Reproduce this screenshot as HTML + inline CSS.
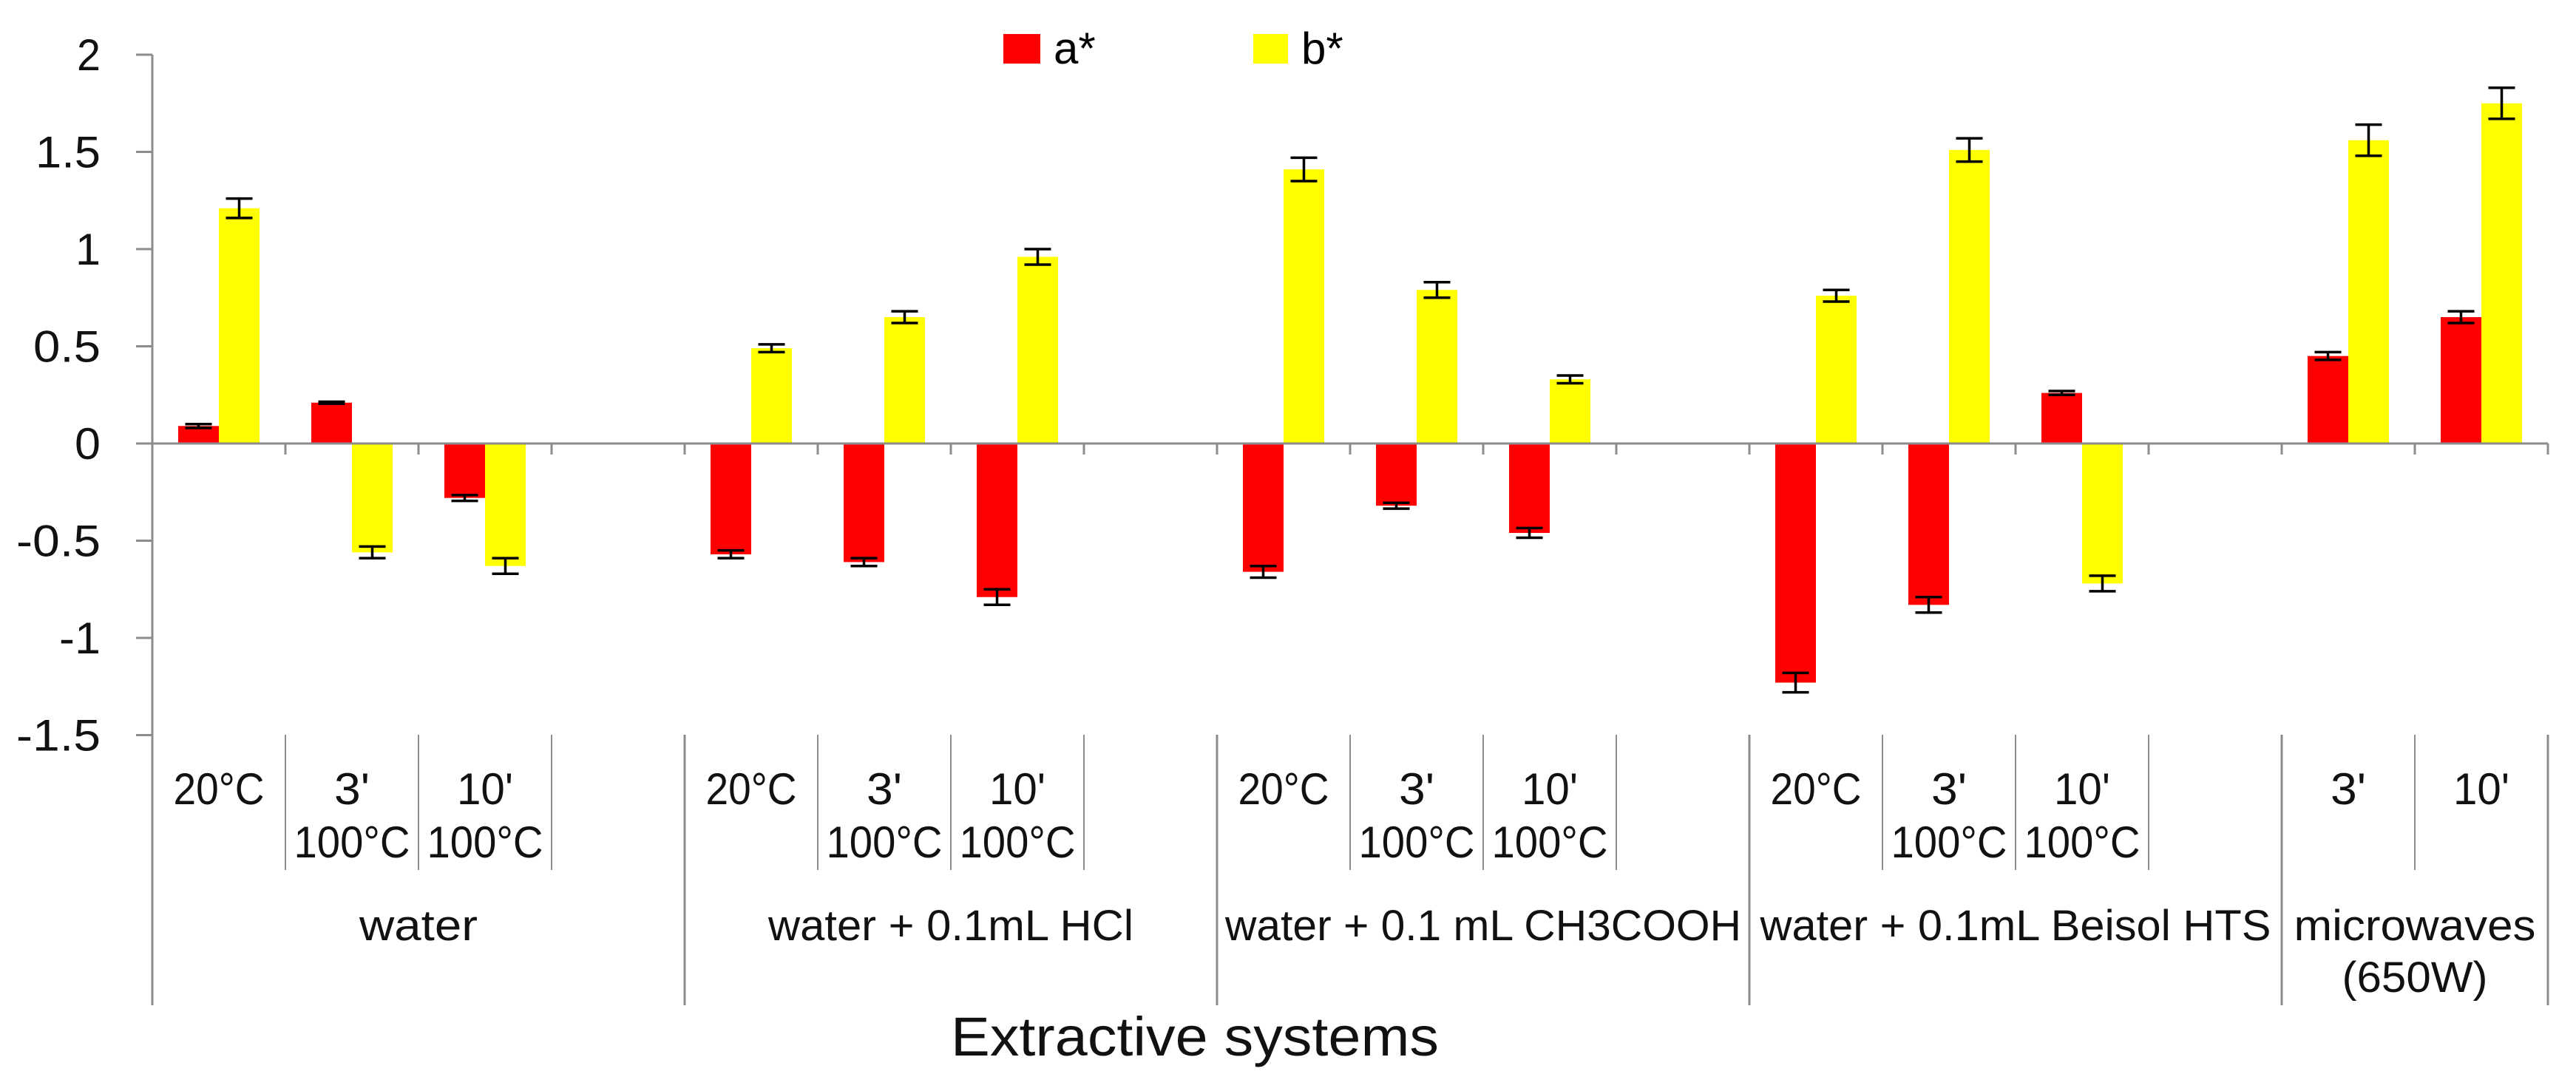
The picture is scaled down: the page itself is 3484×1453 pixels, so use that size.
<!DOCTYPE html>
<html><head><meta charset="utf-8"><style>html,body{margin:0;padding:0;background:#fff}svg{display:block}</style></head>
<body>
<svg id="chart" width="3484" height="1453" viewBox="0 0 3484 1453" xmlns="http://www.w3.org/2000/svg" font-family="Liberation Sans, sans-serif">
<g id="legend">
  <rect x="1357" y="46" width="50" height="40" fill="#ff0000"/>
  <text x="1425" y="86" font-size="60">a*</text>
  <rect x="1695" y="46" width="47" height="40" fill="#ffff00"/>
  <text x="1760" y="86" font-size="60">b*</text>
</g>
<g id="plot"></g>
</svg>
<script>
const groups = ["water","water + 0.1mL HCl","water + 0.1 mL CH3COOH","water + 0.1mL Beisol HTS","microwaves|(650W)"];
const groupSizes = [4,4,4,4,2];
const subLabels = [["20°C"],["3'","100°C"],["10'","100°C"],null, ["20°C"],["3'","100°C"],["10'","100°C"],null, ["20°C"],["3'","100°C"],["10'","100°C"],null, ["20°C"],["3'","100°C"],["10'","100°C"],null, ["3'"],["10'"]];
const aValues = [0.09,0.21,-0.28,null, -0.57,-0.61,-0.79,null, -0.66,-0.32,-0.46,null, -1.23,-0.83,0.26,null, 0.45,0.65];
const aErrors = [0.01,0.005,0.015,null, 0.02,0.02,0.04,null, 0.03,0.015,0.025,null, 0.05,0.04,0.01,null, 0.02,0.03];
const bValues = [1.21,-0.56,-0.63,null, 0.49,0.65,0.96,null, 1.41,0.79,0.33,null, 0.76,1.51,-0.72,null, 1.56,1.75];
const bErrors = [0.05,0.03,0.04,null, 0.02,0.03,0.04,null, 0.06,0.04,0.02,null, 0.03,0.06,0.04,null, 0.08,0.08];
const yTicks = [2,1.5,1,0.5,0,-0.5,-1,-1.5];
const yTickLabels = ["2","1.5","1","0.5","0","-0.5","-1","-1.5"];

const NS="http://www.w3.org/2000/svg";
const g=document.getElementById('plot');
const X0=206, SLOT=180, Y0=600, PX=263;
const y=v=>Y0-v*PX;
const xs=i=>X0+i*SLOT;
const AX="#8c8c8c";
function mk(t,a){const e=document.createElementNS(NS,t);for(const k in a)e.setAttribute(k,a[k]);g.appendChild(e);return e;}
const widths={"2":32,"1.5":88,"1":34,"0.5":91,"0":35,"-0.5":114,"-1":56,"-1.5":114,"20°C":123,"100°C":157,"3'":48,"10'":76,
 "water":160,"water + 0.1mL HCl":494,"water + 0.1 mL CH3COOH":698,"water + 0.1mL Beisol HTS":691,"microwaves":327,"(650W)":197};
function txt(s,x,yy,fs,anchor,name){const e=mk('text',{x:x,y:yy,'font-size':fs,'text-anchor':anchor,fill:'#111'});
 if(widths[s]){e.setAttribute('textLength',widths[s]);e.setAttribute('lengthAdjust','spacingAndGlyphs');}
 e.textContent=s;
 
 
 return e;}
const nSlots=subLabels.length, XE=xs(nSlots);
let ax=mk('line',{x1:X0,y1:y(2),x2:X0,y2:1360,stroke:AX,'stroke-width':3});


yTicks.forEach((v,i)=>{
 let t=mk('line',{x1:184,y1:y(v),x2:X0,y2:y(v),stroke:AX,'stroke-width':3});
 
 
 txt(yTickLabels[i],136,y(v)+21,60,'end','y-tick-label');
});
const BW=55, OFF=35;
function bar(i,v,e,col,name){
 if(v===null)return;
 const x=xs(i)+OFF+(col==='#ffff00'?BW:0);
 let r=mk('rect',{x:x,y:Math.min(y(v),Y0),width:BW,height:Math.abs(y(v)-Y0),fill:col});
 
 
 const cx=x+BW/2, hi=y(v+e), lo=y(v-e);
 let p=mk('path',{d:`M${cx},${hi}V${lo}M${cx-18},${hi}H${cx+18}M${cx-18},${lo}H${cx+18}`,stroke:'#000','stroke-width':3.5,fill:'none'});
 
 
}
for(let i=0;i<nSlots;i++){bar(i,aValues[i],aErrors[i],'#ff0000','bar-a');bar(i,bValues[i],bErrors[i],'#ffff00','bar-b');}
let xa=mk('line',{x1:X0,y1:Y0,x2:XE,y2:Y0,stroke:AX,'stroke-width':3});


for(let i=1;i<=nSlots;i++){
 let t=mk('line',{x1:xs(i),y1:Y0,x2:xs(i),y2:Y0+15,stroke:AX,'stroke-width':3});
 
 
}
let start=0; const bounds=[0];
groupSizes.forEach(s=>{start+=s;bounds.push(start);});
for(let i=1;i<=nSlots;i++){
 const isG=bounds.includes(i);
 let l=mk('line',{x1:xs(i),y1:994,x2:xs(i),y2:isG?1360:1177,stroke:AX,'stroke-width':isG?3:2});
 
 
}
subLabels.forEach((lab,i)=>{
 if(!lab)return;
 const cx=xs(i)+SLOT/2;
 txt(lab[0],cx,1088,60,'middle','category-label');
 if(lab[1])txt(lab[1],cx,1160,60,'middle','category-label');
});
groups.forEach((gname,k)=>{
 const cx=(xs(bounds[k])+xs(bounds[k+1]))/2;
 const parts=gname.split('|');
 txt(parts[0],cx,1272,58,'middle','group-label');
 if(parts[1])txt(parts[1],cx,1342,58,'middle','group-label');
});
let tt=txt("Extractive systems",1616,1428,74,'middle','x-axis-title');
tt.setAttribute('textLength',660);
tt.setAttribute('lengthAdjust','spacingAndGlyphs');
</script>
</body></html>
